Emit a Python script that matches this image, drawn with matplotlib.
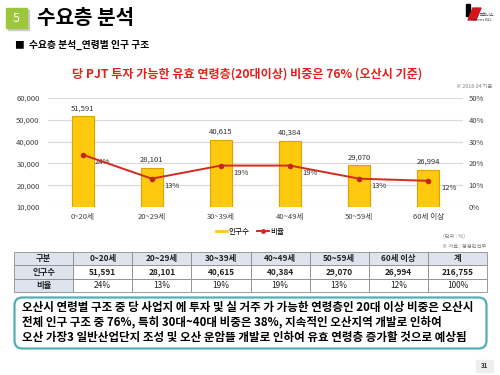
import matplotlib.pyplot as plt
from matplotlib.patches import Rectangle, FancyBboxPatch, Polygon
from matplotlib.lines import Line2D

plt.rcParams['font.family'] = ['Noto Sans CJK KR', 'DejaVu Sans']

ages = ["0~20세", "20~29세", "30~39세", "40~49세", "50~59세", "60세 이상"]
population = [51591, 28101, 40615, 40384, 29070, 26994]
ratio = [24, 13, 19, 19, 13, 12]
total_pop = "216,755"
total_ratio = "100%"

left_ticks = [10000, 20000, 30000, 40000, 50000, 60000]
right_ticks = [0, 10, 20, 30, 40, 50]

summary = [
    "오산시 연령별 구조 중 당 사업지 에 투자 및 실 거주 가 가능한 연령층인 20대 이상 비중은 오산시",
    "전체 인구 구조 중 76%, 특히 30대~40대 비중은 38%, 지속적인 오산지역 개발로 인하여",
    "오산 가장3 일반산업단지 조성 및 오산 운암뜰 개발로 인하여 유효 연령층 증가할 것으로 예상됨",
]

W, H = 500, 375
fig = plt.figure(figsize=(5, 3.75), dpi=100)


def Y(y):
    return H - y


# page overlay in pixel coordinates
ov = fig.add_axes([0, 0, 1, 1])
ov.set_xlim(0, W)
ov.set_ylim(0, H)
ov.axis("off")

# header
ov.add_patch(Rectangle((8, Y(30)), 21, 20, color="#c9c9c9", zorder=1))
ov.add_patch(Rectangle((6, Y(28)), 21, 20, color="#9cc63b", zorder=2))
ov.text(16.5, Y(18), "5", color="white", fontsize=9, ha="center", va="center", zorder=3)
ov.text(37, Y(17), "수요층 분석", fontsize=14.5, fontweight="bold", ha="left", va="center")
ov.text(14, Y(45), "■", fontsize=7, ha="left", va="center")
ov.text(29, Y(45), "수요층 분석_연령별 인구 구조", fontsize=7, fontweight="bold", ha="left", va="center")

# logo
ov.add_patch(Polygon([(466, Y(4)), (470, Y(4)), (470, Y(16)), (466, Y(16))], color="black"))
for k in range(3):
    x0 = 468 + k * 3
    ov.add_patch(Polygon([(x0, Y(20)), (x0 + 2, Y(20)), (x0 + 7, Y(8)), (x0 + 5, Y(8))], color="#d4141c"))
ov.text(480, Y(15), "파트너스", fontsize=2.8, ha="left", va="center", color="#333333")
ov.text(471, Y(20), "Partners D&C", fontsize=2.4, ha="left", va="center", color="#333333")

ov.text(247, Y(74), "당 PJT 투자 가능한 유효 연령층(20대이상) 비중은 76% (오산시 기준)",
        fontsize=8.7, fontweight="bold", color="#e3201b", ha="center", va="center")
ov.text(492, Y(87), "※ 2018.04 기준", fontsize=3.8, color="#808080", ha="right", va="center")

# chart
ax = fig.add_axes([48 / W, 1 - 207 / H, 415 / W, 109 / H])
x = list(range(len(ages)))
ax.bar(x, population, width=0.32, color="#ffc90e", edgecolor="#e0a200", linewidth=0.8, zorder=3)
ax.set_xlim(-0.5, len(ages) - 0.5)
ax.set_ylim(10000, 60000)
ax.set_yticks(left_ticks)
ax.set_yticklabels([f"{v:,}" for v in left_ticks])
ax.set_xticks(x)
ax.set_xticklabels(ages)
ax.grid(axis="y", color="#d9d9d9", linewidth=0.8, zorder=0)
ax.set_axisbelow(True)
for s in ax.spines.values():
    s.set_visible(False)
ax.tick_params(axis="y", length=0, pad=6, labelsize=5.5, labelcolor="#404040")
ax.tick_params(axis="x", length=0, pad=4, labelsize=5.5, labelcolor="#404040")
for xi, v in zip(x, population):
    ax.annotate(f"{v:,}", (xi, v), xytext=(0, 3), textcoords="offset points",
                ha="center", va="bottom", fontsize=5.5, color="#303030")

ax2 = ax.twinx()
ax2.set_ylim(0, 50)
ax2.set_yticks(right_ticks)
ax2.set_yticklabels([f"{v}%" for v in right_ticks])
for s in ax2.spines.values():
    s.set_visible(False)
ax2.tick_params(axis="y", length=0, pad=4, labelsize=5.5, labelcolor="#404040")
ax2.plot(x, ratio, color="#d42a1e", linewidth=1.4, marker="o", markersize=3,
         markerfacecolor="#c0281c", markeredgecolor="#c0281c", zorder=4)
for xi, v in zip(x, ratio):
    ax2.annotate(f"{v}%", (xi, v), xytext=(9, -5), textcoords="offset points",
                 ha="left", va="center", fontsize=5.5, color="#303030")

handles = [Line2D([], [], color="#ffc90e", linewidth=2),
           Line2D([], [], color="#d42a1e", linewidth=1.4, marker="o", markersize=2.5)]
fig.legend(handles, ["인구수", "비율"], loc="center", bbox_to_anchor=(250 / W, 1 - 232 / H),
           ncol=2, frameon=False, fontsize=5.5, handlelength=1.5, handletextpad=0.2,
           columnspacing=1.0)

ov.text(465, Y(236), "(단위 : %)", fontsize=3.8, color="#808080", ha="right", va="center")
ov.text(486, Y(247), "※ 자료 : 행정안전부", fontsize=3.8, color="#808080", ha="right", va="center")

# table
tax = fig.add_axes([14 / W, 1 - 292 / H, 473 / W, 40 / H])
tax.axis("off")
rows = [
    ["구분"] + ages + ["계"],
    ["인구수"] + [f"{v:,}" for v in population] + [total_pop],
    ["비율"] + [f"{v}%" for v in ratio] + [total_ratio],
]
tbl = tax.table(cellText=rows, bbox=[0, 0, 1, 1], cellLoc="center")
tbl.auto_set_font_size(False)
for (r, c), cell in tbl.get_celld().items():
    cell.set_edgecolor("#8c8c8c")
    cell.set_linewidth(0.6)
    if r == 0 or c == 0:
        cell.set_facecolor("#dde4ee")
    else:
        cell.set_facecolor("white")
    t = cell.get_text()
    t.set_fontsize(6)
    t.set_color("#202020")
    if r < 2 or c == 0:
        t.set_fontweight("bold")

# summary box
ov.add_patch(FancyBboxPatch((16, Y(347)), 469, 48, boxstyle="round,pad=1.5,rounding_size=8",
                            facecolor="white", edgecolor="#52aeb4", linewidth=1.6))
for i, line in enumerate(summary):
    ov.text(22, Y(307 + 15 * i), line, fontsize=8.3, fontweight="bold",
            ha="left", va="center", color="black")

# page number
ov.add_patch(Rectangle((476, Y(372)), 17, 12, color="#eeeeee"))
ov.text(484.5, Y(366), "31", fontsize=4.5, fontweight="bold", ha="center", va="center", color="#333333")

fig.savefig("out.png", dpi=100)
